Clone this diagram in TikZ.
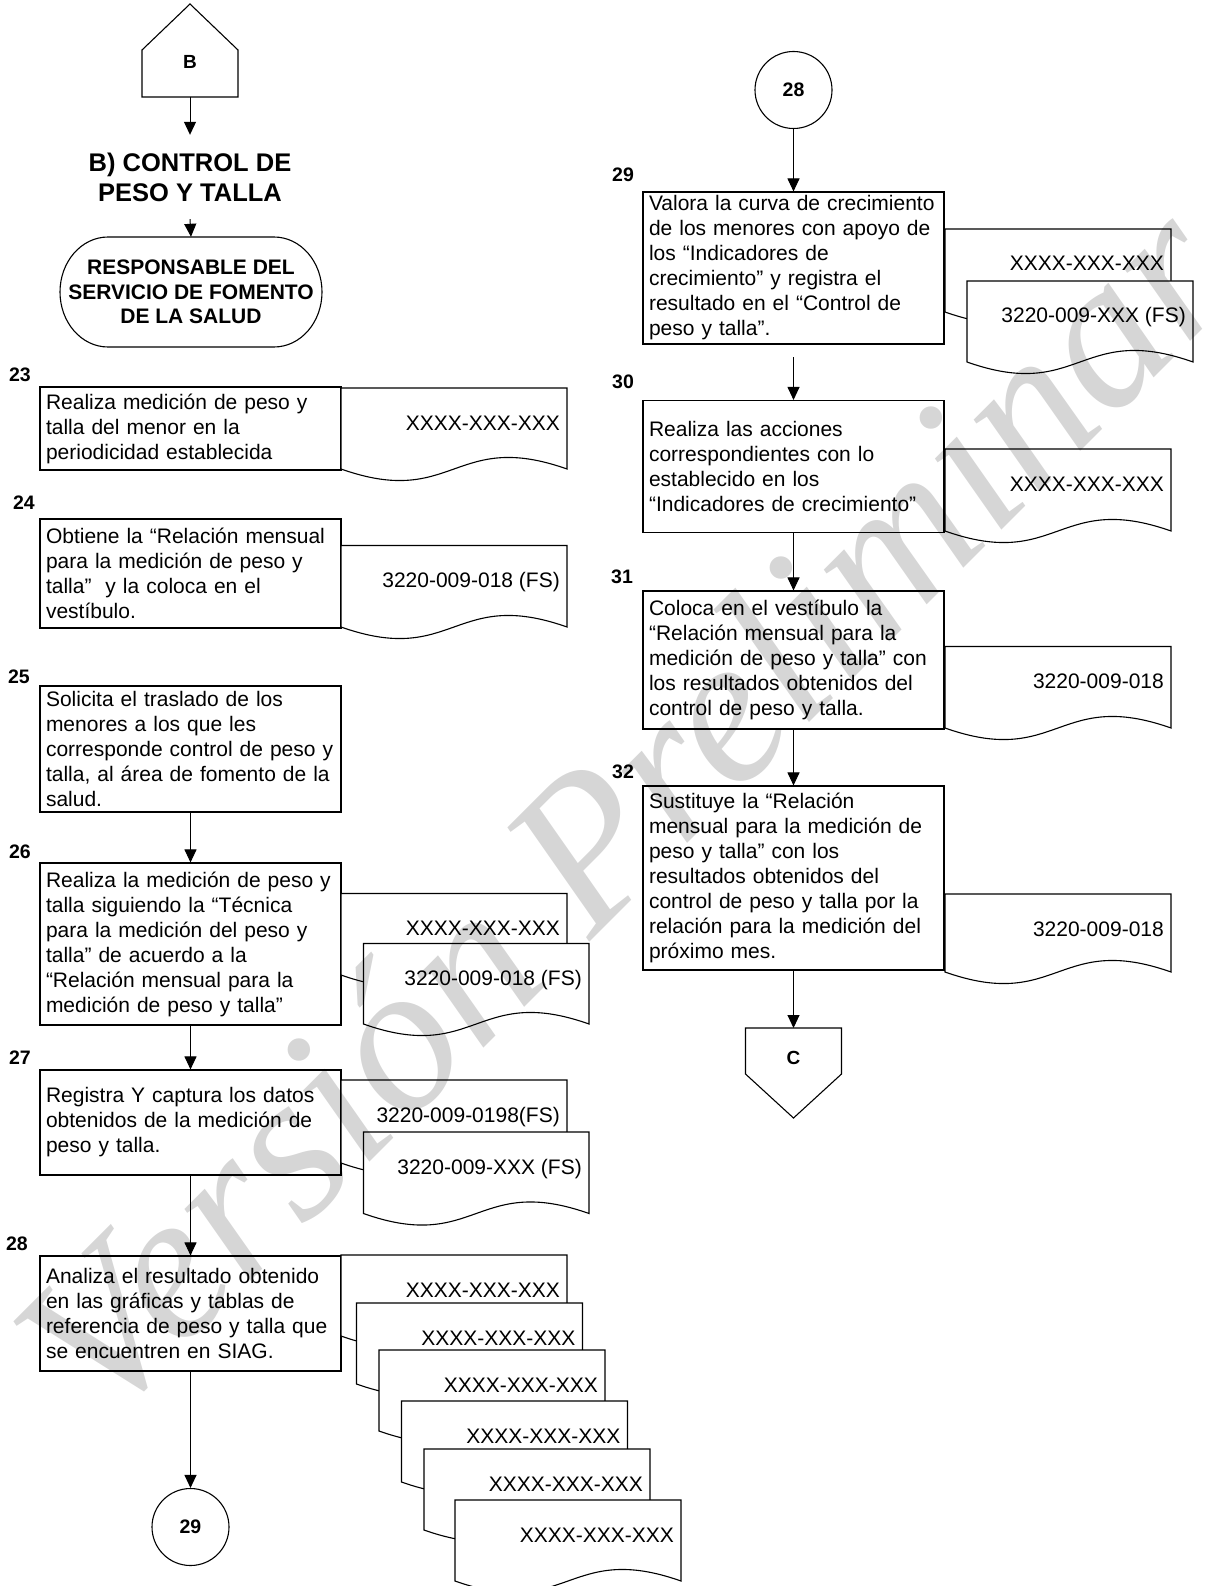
\documentclass[tikz,border=0pt]{standalone}
\usepackage{fontspec}
\setmainfont{Liberation Sans}
\newfontfamily\wmfont{Liberation Serif}
\usetikzlibrary{arrows.meta}

% document symbol: name, x1, y1, x2, y2 (bottom of the straight sides), text
\newcommand\docsheet[6]{%
  \filldraw[docline] (#2,#3) -- (#4,#3) -- (#4,#5)
    .. controls ({(#2+#4)/2},{#5-40}) and ({(#2+#4)/2},{#5+40}) .. (#2,#5) -- cycle;
  \node[doctext] (#1) at ({#4-7},{#3+42}) {#6};
}

\begin{document}
\begin{tikzpicture}[x=1pt,y=-1pt,
  shapeline/.style={draw=black, line width=1.1pt, fill=white},
  docline/.style={draw=black, line width=1.1pt, fill=white},
  procbox/.style={draw=black, line width=1.1pt, fill=white, align=left,
    inner xsep=6pt, inner ysep=0pt, minimum width=301pt, text width=289pt,
    font=\fontsize{21}{25}\selectfont},
  doctext/.style={inner sep=0pt, anchor=base east, font=\fontsize{21}{25}\selectfont},
  steplabel/.style={inner sep=0pt, font=\bfseries\fontsize{19.5}{19.5}\selectfont},
  connector/.style={draw=black, circle, line width=1.1pt, fill=white,
    minimum size=77pt, inner sep=0pt, font=\bfseries\fontsize{19.5}{19.5}\selectfont},
  arr/.style={draw=black, line width=1pt, -{Triangle[length=13pt,width=12pt]}},
]
\useasboundingbox (0,0) rectangle (1209,1586);
\fill[white] (0,0) rectangle (1209,1586);

% ---------------- left column ----------------
% off-page connector B
\draw[shapeline] (142,50) -- (190,4) -- (238,50) -- (238,97) -- (142,97) -- cycle;
\node[font=\bfseries\fontsize{19}{19}\selectfont] (B) at (190,62) {B};
\coordinate (Bbot) at (190,97);

\node[align=center, inner sep=0pt, minimum height=84pt,
      font=\bfseries\fontsize{25.5}{30}\selectfont] (title) at (190,177)
  {B) CONTROL DE\\PESO Y TALLA};

% terminator
\draw[shapeline] (108,237) -- (274,237)
  .. controls (300.5,237) and (322,261.6) .. (322,292)
  .. controls (322,322.4) and (300.5,347) .. (274,347)
  -- (108,347)
  .. controls (81.5,347) and (60,322.4) .. (60,292)
  .. controls (60,261.6) and (81.5,237) .. (108,237) -- cycle;
\node[align=center, inner sep=0pt, minimum width=262pt, minimum height=110pt,
      font=\bfseries\fontsize{21}{24.5}\selectfont] (resp) at (191,292)
  {RESPONSABLE DEL\\SERVICIO DE FOMENTO\\DE LA SALUD};

% step 23
\node[steplabel] (n23) at (20,375) {23};
\node[procbox, minimum height=83pt] (b23) at (190.5,428.5)
  {Realiza medición de peso y\\talla del menor en la\\periodicidad establecida};
\docsheet{d23}{341}{388}{567}{469}{XXXX-XXX-XXX}

% step 24
\node[steplabel] (n24) at (24,503) {24};
\node[procbox, minimum height=109pt] (b24) at (190.5,573.5)
  {Obtiene la “Relación mensual\\para la medición de peso y\\talla”\ \ y la coloca en el\\vestíbulo.};
\docsheet{d24}{341}{545.5}{567}{627}{3220-009-018 (FS)}

% step 25
\node[steplabel] (n25) at (19,677) {25};
\node[procbox, minimum height=126pt] (b25) at (190.5,749)
  {Solicita el traslado de los\\menores a los que les\\corresponde control de peso y\\talla, al área de fomento de la\\salud.};

% step 26
\node[steplabel] (n26) at (20,852) {26};
\node[procbox, minimum height=162pt] (b26) at (190.5,944)
  {Realiza la medición de peso y\\talla siguiendo la “Técnica\\para la medición del peso y\\talla” de acuerdo a la\\“Relación mensual para la\\medición de peso y talla”};
\docsheet{d26a}{341}{893.5}{567}{975}{XXXX-XXX-XXX}
\docsheet{d26b}{363.5}{943.5}{589}{1024}{3220-009-018 (FS)}

% step 27
\node[steplabel] (n27) at (20,1058) {27};
\node[procbox, minimum height=105pt] (b27) at (190.5,1122.5)
  {Registra Y captura los datos\\obtenidos de la medición de\\peso y talla.};
\docsheet{d27a}{341}{1080}{567}{1163}{3220-009-0198(FS)}
\docsheet{d27b}{363.5}{1132}{589}{1213.5}{3220-009-XXX (FS)}

% step 28
\node[steplabel] (n28) at (17,1244) {28};
\node[procbox, minimum height=115pt] (b28) at (190.5,1313.5)
  {Analiza el resultado obtenido\\en las gráficas y tablas de\\referencia de peso y talla que\\se encuentren en SIAG.};
\docsheet{d28a}{341}{1255}{567}{1336}{XXXX-XXX-XXX}
\docsheet{d28b}{356.5}{1303}{582.5}{1384}{XXXX-XXX-XXX}
\docsheet{d28c}{379}{1350}{605}{1431}{XXXX-XXX-XXX}
\docsheet{d28d}{401.5}{1401}{627.5}{1482}{XXXX-XXX-XXX}
\docsheet{d28e}{424}{1449}{650}{1530}{XXXX-XXX-XXX}
\docsheet{d28f}{455}{1500}{681}{1581}{XXXX-XXX-XXX}

\node[connector] (c29) at (190.5,1527) {29};

% ---------------- right column ----------------
\node[connector] (c28) at (793.5,90) {28};

% step 29
\node[steplabel] (n29) at (623,175) {29};
\node[procbox, minimum height=152pt] (b29) at (793.5,268)
  {Valora la curva de crecimiento\\de los menores con apoyo de\\los “Indicadores de\\crecimiento” y registra el\\resultado en el “Control de\\peso y talla”.};
\docsheet{d29a}{945}{229}{1171}{312}{XXXX-XXX-XXX}
\docsheet{d29b}{967}{281}{1193}{362}{3220-009-XXX (FS)}
\coordinate (gap29) at (793.5,357);

% step 30
\node[steplabel] (n30) at (623,382) {30};
\node[procbox, minimum height=132pt] (b30) at (793.5,466.5)
  {Realiza las acciones\\correspondientes con lo\\establecido en los\\“Indicadores de crecimiento”};
\docsheet{d30}{945}{449}{1171}{531}{XXXX-XXX-XXX}

% step 31
\node[steplabel] (n31) at (622,577) {31};
\node[procbox, minimum height=138pt] (b31) at (793.5,660)
  {Coloca en el vestíbulo la\\“Relación mensual para la\\medición de peso y talla” con\\los resultados obtenidos del\\control de peso y talla.};
\docsheet{d31}{945}{646.5}{1171}{728}{3220-009-018}

% step 32
\node[steplabel] (n32) at (623,772) {32};
\node[procbox, minimum height=184pt] (b32) at (793.5,878)
  {Sustituye la “Relación\\mensual para la medición de\\peso y talla” con los\\resultados obtenidos del\\control de peso y talla por la\\relación para la medición del\\próximo mes.};
\docsheet{d32}{945}{894}{1171}{972}{3220-009-018}

% off-page connector C
\draw[shapeline] (745.5,1028) -- (841.5,1028) -- (841.5,1074) -- (793.5,1118) -- (745.5,1074) -- cycle;
\node[font=\bfseries\fontsize{19}{19}\selectfont] (C) at (793.5,1058) {C};
\coordinate (Ctop) at (793.5,1028);

% ---------------- flow ----------------
\draw[arr] (Bbot) -- (title.north);
\draw[arr] (title.south) -- (resp.north);
\draw[arr] (b25.south) -- (b26.north);
\draw[arr] (b26.south) -- (b27.north);
\draw[arr] (b27.south) -- (b28.north);
\draw[arr] (b28.south) -- (c29.north);
\draw[arr] (c28.south) -- (b29.north);
\draw[arr] (gap29) -- (b30.north);
\draw[arr] (b30.south) -- (b31.north);
\draw[arr] (b31.south) -- (b32.north);
\draw[arr] (b32.south) -- (Ctop);

% watermark
\node[rotate=45, opacity=0.16, inner sep=0pt,
      font=\wmfont\itshape\fontsize{212}{212}\selectfont] (wm) at (622,808)
  {Versión Preliminar};
\end{tikzpicture}
\end{document}
